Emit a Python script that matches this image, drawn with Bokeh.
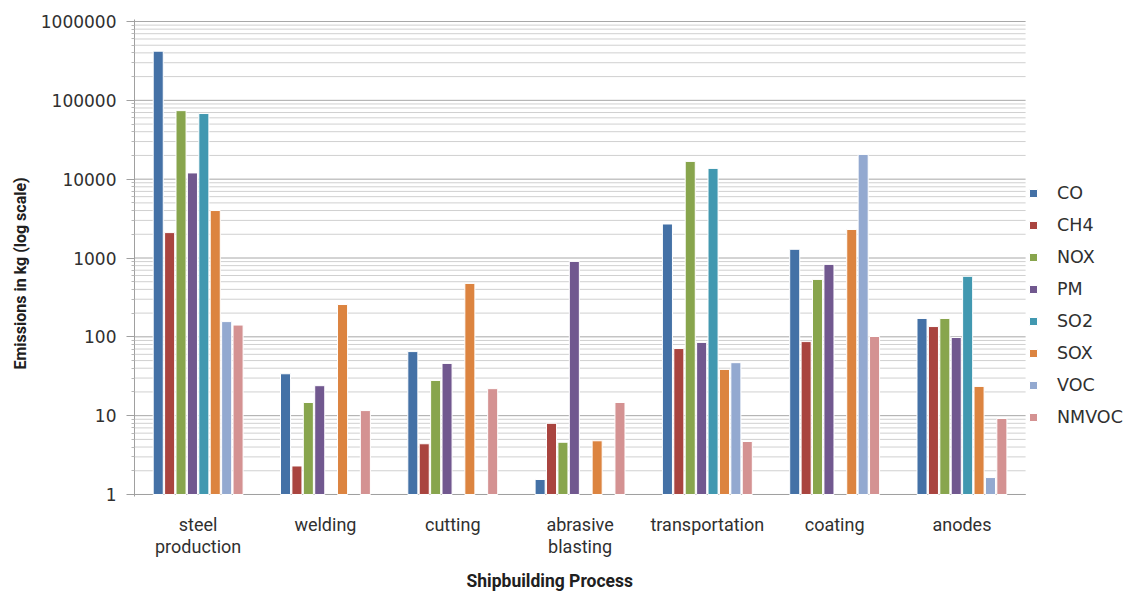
from bokeh.embed import file_html
from bokeh.models import (ColumnDataSource, FixedTicker, Legend, LegendItem,
                          LinearAxis, Range1d, Title)
from bokeh.plotting import figure
from bokeh.resources import INLINE

NA = float("nan")

# Shipbuilding processes (x categories)
processes = ["steel production", "welding", "cutting", "abrasive blasting",
             "transportation", "coating", "anodes"]

# Emissions in kg per pollutant, one value per process (NaN = not reported)
co    = [420000, 34, 65, 1.55, 2700, 1290, 171]
ch4   = [2100, 2.3, 4.4, 8, 71, 87, 135]
nox   = [74000, 14.7, 28, 4.6, 16800, 535, 171]
pm    = [12000, 24, 46, 905, 85, 830, 98]
so2   = [68000, NA, NA, NA, 13700, NA, 586]
sox   = [4000, 257, 476, 4.8, 38.6, 2300, 23.5]
voc   = [156, NA, NA, NA, 47, 20600, 1.64]
nmvoc = [141, 11.6, 22, 14.7, 4.7, 101, 9.2]

pollutants = ["CO", "CH4", "NOX", "PM", "SO2", "SOX", "VOC", "NMVOC"]
series = [co, ch4, nox, pm, so2, sox, voc, nmvoc]
colors = ["#4471A6", "#A9443F", "#88A54D", "#71588F",
          "#4198B0", "#DC8440", "#93A9D0", "#D49292"]

y_ticks = [1, 10, 100, 1000, 10000, 100000, 1000000]
y_labels = ["1", "10", "100", "1000", "10000", "100000", "1000000"]

LABEL_FONT = "Roboto, sans-serif"
NUM_FONT = "'DejaVu Sans', sans-serif"

n = len(processes)
centers = [i + 0.5 for i in range(n)]

# Category labels, split over two rows
row1, row2 = {}, {}
for c, name in zip(centers, processes):
    words = name.split(" ")
    row1[c] = words[0]
    row2[c] = words[1] if len(words) > 1 else " "

# The frame runs on to the right edge so the legend sits inside it;
# the bars and grid only occupy the first n category slots.
p = figure(
    x_range=Range1d(0, n * 1.1166),
    y_axis_type="log",
    y_range=(10 ** -0.0254, 10 ** 6.0254),
    width=1129, height=601,
    output_backend="svg",
    toolbar_location=None,
    min_border_left=134, min_border_right=0,
    min_border_top=19, min_border_bottom=105,
    background_fill_color="white",
    border_fill_color="white",
)
p.outline_line_color = None
p.xgrid.grid_line_color = None
p.ygrid.grid_line_color = None
p.ygrid.minor_grid_line_color = None

# Log ticker with minor ticks at 2..9 of each decade
minor = [m * 10 ** d for d in range(6) for m in range(2, 10)]
p.yaxis.ticker = FixedTicker(ticks=y_ticks, minor_ticks=minor)
p.yaxis.major_label_overrides = {t: s for t, s in zip(y_ticks, y_labels)}
p.yaxis.major_label_text_font = NUM_FONT
p.yaxis.major_label_text_font_size = "17px"
p.yaxis.major_label_text_color = "#303030"
p.yaxis.major_tick_out = 8
p.yaxis.major_tick_in = 0
p.yaxis.minor_tick_out = 3
p.yaxis.minor_tick_in = 0
p.yaxis.major_tick_line_color = "#a0a0a0"
p.yaxis.minor_tick_line_color = "#b8b8b8"
p.yaxis.axis_line_color = "#a0a0a0"
p.yaxis.major_label_standoff = 10

# Horizontal grid limited to the category area
p.segment(x0=0, x1=n, y0=minor, y1=minor, line_color="#d0d0d0", line_width=1)
p.segment(x0=0, x1=n, y0=y_ticks, y1=y_ticks, line_color="#a8a8a8", line_width=1)

# First row of category labels
xa = p.xaxis[0]
xa.ticker = FixedTicker(ticks=centers, minor_ticks=[])
xa.major_label_overrides = row1
xa.major_label_text_font = LABEL_FONT
xa.major_label_text_font_size = "18px"
xa.major_label_text_color = "#303030"
xa.major_tick_line_color = None
xa.minor_tick_line_color = None
xa.axis_line_color = None
xa.major_label_standoff = 11

# Second row of category labels
xb = LinearAxis(
    ticker=FixedTicker(ticks=centers, minor_ticks=[]),
    major_label_overrides=row2,
    major_label_text_font=LABEL_FONT,
    major_label_text_font_size="18px",
    major_label_text_color="#303030",
    major_tick_line_color=None,
    minor_tick_line_color=None,
    axis_line_color=None,
    major_label_standoff=-8,
)
p.add_layout(xb, "below")

# Axis titles
p.add_layout(Title(text="Shipbuilding Process", align="left", offset=332,
                   text_font=LABEL_FONT, text_font_style="bold",
                   text_font_size="17.5px", text_color="#202020", standoff=19), "below")
p.add_layout(Title(text="Emissions in kg (log scale)", align="left", offset=127,
                   text_font=LABEL_FONT, text_font_style="bold",
                   text_font_size="16px", text_color="#202020", standoff=16), "left")

# Baseline of the category axis
p.segment(x0=[0], x1=[n], y0=[1], y1=[1], line_color="#a0a0a0", line_width=1)

step = 0.0896
bar_w = 0.079
items = []
for j, (name, vals, col) in enumerate(zip(pollutants, series, colors)):
    xs = [c + (j - 3.5) * step for c in centers]
    src = ColumnDataSource(dict(x=xs, value=vals))
    r = p.vbar(x="x", top="value", bottom=1, width=bar_w, source=src,
               fill_color=col, line_color="white", line_width=1)
    items.append(LegendItem(label=name, renderers=[r]))

legend = Legend(
    items=items,
    location=(894, 68),
    glyph_width=10, glyph_height=10,
    label_height=22, spacing=10,
    label_standoff=19,
    padding=0, margin=0,
    border_line_color=None,
    background_fill_alpha=0,
    label_text_font=NUM_FONT,
    label_text_font_size="17.5px",
    label_text_color="#303030",
)
p.add_layout(legend, "center")

open("out.html", "w").write(file_html(p, INLINE))
